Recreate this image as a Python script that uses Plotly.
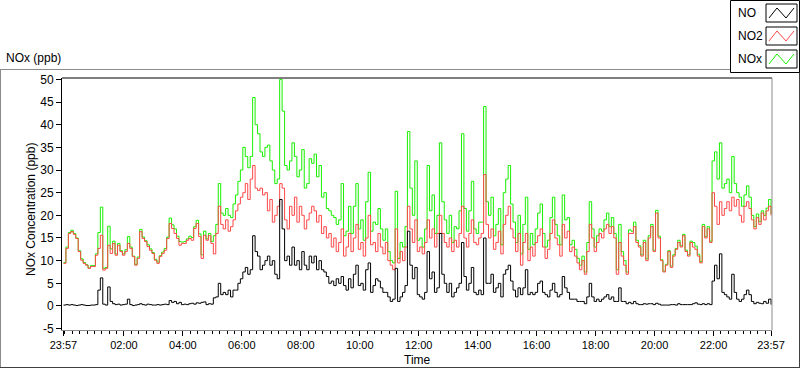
import plotly.graph_objects as go
import pandas as pd

# ---- data: 5-minute readings from 23:57 to 23:57 next day (289 samples) ----
start_time = "2024-01-01 23:57"
n_samples = 289
tick_labels = ["23:57", "02:00", "04:00", "06:00", "08:00", "10:00", "12:00",
               "14:00", "16:00", "18:00", "20:00", "22:00", "23:57"]
y_ticks = [-5, 0, 5, 10, 15, 20, 25, 30, 35, 40, 45, 50]

no2 = [
    # 23:57 - 04:42
    9.4, 12.7, 16.0, 16.4, 15.8, 14.9, 12.0, 10.1, 9.4, 9.0, 8.3, 8.7,
    8.7, 11.2, 12.7, 15.6, 7.9, 8.3, 13.4, 11.6, 13.8, 11.2, 13.4, 12.0,
    11.2, 12.0, 13.8, 12.7, 10.9, 9.0, 10.5, 16.4, 14.9, 14.2, 13.1, 12.3,
    11.6, 10.1, 9.4, 10.9, 11.6, 12.3, 14.9, 18.2, 17.1, 16.0, 14.9, 13.4,
    13.8, 13.8, 14.5, 14.9, 14.5, 17.1, 18.2, 15.3, 10.5, 15.6,
    # 04:47 - 09:37
    14.5, 15.5, 13.8, 11.5, 16.0, 22, 18, 17, 19, 16.5, 17.5, 19, 21, 22.5,
    24, 25, 27, 23.5, 28, 31, 26, 25.5, 26, 24.5, 25, 21, 23.5, 18.5, 20, 22,
    27, 26, 19, 17, 22, 20, 24, 18.5, 22, 20, 17, 19, 20.5, 22, 21, 18.5, 20,
    16, 17.5, 15, 16, 13, 15, 12, 14, 17, 11,
    # 09:42 - 14:27
    13, 16, 12, 15, 18, 12.5, 14, 11, 15, 20, 13.5, 14, 12, 16, 13, 11.5, 14,
    10, 9, 8, 17, 9.5, 12, 10, 13, 22, 17, 14, 19, 12, 13, 11.5, 14, 19, 15,
    17, 13, 16, 20, 16, 14, 13, 15, 12, 14.5, 13, 16, 22, 15, 13, 16, 19, 14,
    13.5, 15, 16, 29, 18,
    # 14:32 - 19:17
    15, 17, 12.5, 14, 16.5, 11.5, 18, 20, 22, 17, 15, 12, 16, 9, 14, 16, 10,
    13, 11, 14, 15.5, 17, 13, 10.5, 12.5, 16, 19, 15, 13.5, 11, 18, 15, 16.5,
    12, 13, 11, 9.5, 8, 10, 7, 12, 18, 15, 12, 14, 16, 15, 17, 18, 16, 17.5,
    15, 7, 14, 11, 9, 7, 16,
    # 19:22 - 23:57
    16, 17.5, 14, 13, 11, 14, 10, 15, 17.5, 12, 20.5, 15, 10, 7.5, 9, 12, 8.5,
    11, 12.5, 14, 13, 15.5, 12, 11, 14, 13, 12.5, 11, 9.5, 17.5, 15, 17, 14,
    25, 22, 18, 23, 20, 21.5, 23, 21, 24, 22, 23.5, 20, 18.5, 22, 23, 21.5,
    19, 17, 19.5, 18, 20.5, 19, 21, 22, 20,
]

no = [
    0.2, 0.3, 0.2, 0.3, 0.2, 0.1, 0.2, 0.3, 0.2, 0.1, 0.1, 0.2,
    0.2, 0.3, 3.5, 6.2, 0.4, 0.2, 4.2, 1.0, 0.5, 0.3, 0.4, 0.2,
    0.3, 0.4, 1.5, 0.3, 0.1, 0.2, 0.3, 0.5, 0.3, 0.2, 0.4, 0.3,
    0.2, 0.2, 0.3, 0.2, 0.3, 0.4, 0.3, 1.2, 0.8, 1.0, 0.5, 0.8,
    0.3, 0.4, 0.3, 0.5, 0.6, 0.4, 0.7, 0.6, 0.8, 0.9,
    0.3, 0.5, 0.4, 1.8, 2.0, 5, 2.5, 3, 2.5, 3.5, 2, 3.5, 3.5, 5, 6, 7.5,
    8.5, 7, 8, 15.5, 12, 11, 8, 9, 10, 11, 9, 10, 7, 6, 23.5, 17, 10, 11, 9,
    13, 9, 10, 8, 12, 9, 8, 11, 9.5, 11, 8, 10, 8, 7.5, 6.5, 5, 5.5, 4.5, 6,
    5, 6.5, 4.5,
    3.5, 6, 4, 7, 9, 4.5, 5, 3.5, 8, 9.5, 3, 4.5, 6, 5.5, 4, 3, 3, 2, 1, 1.5,
    8.3, 1, 2, 3, 4.5, 16.5, 9, 6, 8.5, 2.5, 2, 1.5, 3, 12, 6, 7.5, 3, 4, 16,
    7, 5, 3, 5, 2, 3, 4, 5, 14, 6.5, 3.5, 5, 8.5, 3, 2.5, 3.5, 2.5, 15, 5,
    5, 7, 3, 4, 5, 2, 7, 8, 9, 5.5, 3.5, 2, 4, 2.5, 4, 8, 2.5, 3, 2.5, 3, 5,
    5.5, 3, 2.5, 2, 3.5, 5, 3, 2, 2.5, 6.5, 4, 3, 1.5, 1.5, 1.5, 1, 1, 1,
    0.5, 2, 5, 2, 1, 1.5, 1, 1.5, 2, 2.5, 1.5, 2, 1, 1, 4, 1, 1, 0.5, 0.8,
    0.5, 1, 0.5, 0.3, 0.3, 0.5, 0.4, 0.5, 0.5, 0.3, 0.6, 0.4, 0.2, 0.2, 0.2,
    0.2, 0.3, 0.3, 0.2, 0.5, 0.3, 0.3, 0.3, 0.3, 0.3, 0.5, 0.7, 0.4, 0.3,
    0.5, 0.3, 0.5, 0.3, 5.5, 9, 6, 11.5, 3, 2.5, 2, 1.5, 7, 3, 1.5, 1, 1.5,
    2.5, 3.5, 2.5, 1, 0.5, 0.8, 0.6, 0.5, 1, 0.6, 1.5, 0.3,
]

nox = [
    9.6, 13.0, 16.2, 16.7, 16.0, 15.0, 12.2, 10.4, 9.6, 9.1, 8.4, 8.9,
    8.9, 11.5, 16.2, 21.8, 8.3, 8.5, 17.6, 12.6, 14.3, 11.5, 13.8, 12.2,
    11.5, 12.4, 15.3, 13.0, 11.0, 9.2, 10.8, 16.9, 15.2, 14.4, 13.5, 12.6,
    11.8, 10.3, 9.7, 11.1, 11.9, 12.7, 15.2, 19.4, 17.9, 17.0, 15.4, 14.2,
    14.1, 14.2, 14.8, 15.4, 15.1, 17.5, 18.9, 15.9, 11.3, 16.5,
    14.8, 16.0, 14.2, 15.5, 18.0, 27, 20.5, 20, 21.5, 20, 19.5, 22.5, 24.5,
    27.5, 30, 35, 33, 30.5, 33, 46, 40, 38, 34, 33, 35, 35.5, 32, 30, 27, 28,
    50, 43, 31, 30, 32, 36, 33, 28.5, 30, 34.5, 26, 27, 32.5, 31.5, 33.5,
    28.5, 31, 24, 25, 21.5, 21, 20, 19.5, 18, 19, 27, 15.5,
    16.5, 22, 16, 22, 27, 17, 19, 14.5, 23, 29.5, 16.5, 18.5, 18, 21.5, 17,
    14.5, 17, 12, 10, 9.5, 25.3, 10.5, 14, 13, 17.5, 38.5, 26, 20, 32, 14.5,
    15, 13, 17, 31, 21, 24.5, 16, 20, 36, 23, 19, 16, 20, 14, 17.5, 17, 21,
    38, 21.5, 16.5, 21, 27.5, 17, 16, 18.5, 18.5, 44, 23,
    20, 24, 15.5, 18, 21.5, 13.5, 25, 28, 31, 22.5, 18.5, 14, 20, 11.5, 18,
    24, 12.5, 16, 13.5, 17, 20.5, 22.5, 16, 13, 14.5, 19.5, 24, 18, 15.5,
    13.5, 24.5, 19, 19.5, 13.5, 14.5, 12.5, 10.5, 9, 11, 7.5, 14, 23, 17, 13,
    15.5, 17, 16.5, 19, 20.5, 17.5, 19.5, 16, 8, 18, 12, 10, 7.5, 16.8,
    16.5, 18.5, 14.5, 13.3, 11.3, 14.5, 10.4, 15.5, 18, 12.3, 21.1, 15.4,
    10.2, 7.7, 9.2, 12.2, 8.8, 11.3, 12.7, 14.5, 13.3, 15.8, 12.3, 11.3, 14.3,
    14, 13.2, 11.4, 9.8, 18, 15.3, 17.5, 14.3, 32, 34, 28, 36, 26, 27, 28,
    25, 33, 27, 25, 24, 22, 24.5, 26.5, 24, 20, 17.5, 20.3, 18.6, 21, 20,
    21.6, 23.5, 20.3,
]

# ---- build figure ----
times = pd.date_range(start_time, periods=n_samples, freq="5min")
t0, t1 = times[0], times[-1]
major_vals = [t0] + list(pd.date_range(t0.normalize() + pd.Timedelta(days=1, hours=2),
                                       periods=11, freq="2h")) + [t1]
minor_vals = list(pd.date_range(t0.normalize() + pd.Timedelta(days=1),
                                periods=96, freq="15min"))

FONT = "Liberation Sans, Arial, sans-serif"
GREEN, RED, BLACK = "#18f000", "#ff4848", "#000000"

fig = go.Figure()
fig.add_trace(go.Scatter(x=times, y=nox, mode="lines", name="NOx",
                         line=dict(color=GREEN, width=1, shape="hv"), showlegend=False))
fig.add_trace(go.Scatter(x=times, y=no2, mode="lines", name="NO2",
                         line=dict(color=RED, width=1, shape="hv"), showlegend=False))
fig.add_trace(go.Scatter(x=times, y=no, mode="lines", name="NO",
                         line=dict(color=BLACK, width=1, shape="hv"), showlegend=False))

L, R, T, B = 62, 772, 78, 330
W, H = 800, 369


def px(x):
    return (x - L) / (R - L)


def py(y):
    return (B - y) / (B - T)


shapes = []
# plot frame: top/left dark, right/bottom grey
shapes.append(dict(type="line", xref="paper", yref="paper", x0=0, x1=1, y0=1, y1=1,
                   line=dict(color="black", width=1)))
shapes.append(dict(type="line", xref="paper", yref="paper", x0=1, x1=1, y0=0, y1=1,
                   line=dict(color="#8c8c8c", width=1)))
# outer panel
panel = [((0, 69.5), (730, 69.5), "#8c8c8c"), ((0.5, 69.5), (0.5, 368), "#8c8c8c"),
         ((0, 367.5), (800, 367.5), "#404040"), ((799.5, 72), (799.5, 368), "#404040")]
for (xa, ya), (xb, yb), c in panel:
    shapes.append(dict(type="line", xref="paper", yref="paper", x0=px(xa), y0=py(ya),
                       x1=px(xb), y1=py(yb), line=dict(color=c, width=1)))
# legend box
shapes.append(dict(type="rect", xref="paper", yref="paper", x0=px(730.5), y0=py(72.5),
                   x1=px(799.5), y1=py(0.5), line=dict(color="black", width=1),
                   fillcolor="white"))

annotations = []
legend_items = [("NO", BLACK, 13), ("NO2", RED, 36), ("NOx", GREEN, 59)]
for name, col, cy in legend_items:
    x0, x1 = 766, 797
    y0, y1 = cy - 9, cy + 9
    shapes.append(dict(type="rect", xref="paper", yref="paper", x0=px(x0), x1=px(x1),
                       y0=py(y1), y1=py(y0), line=dict(color="black", width=1),
                       fillcolor="white"))
    pts = [(x0 + 3, y1 - 4), (x0 + 11, y0 + 4), (x0 + 20, y1 - 4), (x0 + 28, y0 + 4)]
    path = "M " + " L ".join(f"{px(a):.5f},{py(b):.5f}" for a, b in pts)
    shapes.append(dict(type="path", xref="paper", yref="paper", path=path,
                       line=dict(color=col, width=1)))
    annotations.append(dict(text=name, xref="paper", yref="paper", x=px(736), y=py(cy),
                            xanchor="left", yanchor="middle", showarrow=False,
                            font=dict(family=FONT, size=12, color="black")))

annotations.append(dict(text="NOx (ppb)", xref="paper", yref="paper", x=px(4), y=py(58),
                        xanchor="left", yanchor="middle", showarrow=False,
                        font=dict(family=FONT, size=12, color="black")))
annotations.append(dict(text="NOx Concentration (ppb)", xref="paper", yref="paper",
                        x=px(31), y=py(210), textangle=-90, xanchor="center",
                        yanchor="middle", showarrow=False,
                        font=dict(family=FONT, size=12, color="black")))
annotations.append(dict(text="Time", xref="paper", yref="paper", x=px(417), y=py(360),
                        xanchor="center", yanchor="middle", showarrow=False,
                        font=dict(family=FONT, size=12, color="black")))

fig.update_layout(
    width=W, height=H,
    margin=dict(l=L, r=W - R, t=T, b=H - B, pad=0, autoexpand=False),
    paper_bgcolor="white", plot_bgcolor="white",
    showlegend=False, hovermode=False,
    shapes=shapes, annotations=annotations,
    xaxis=dict(
        range=[t0 - pd.Timedelta(minutes=3), t1 + pd.Timedelta(minutes=2)],
        tickmode="array", tickvals=major_vals, ticktext=tick_labels,
        ticks="outside", ticklen=5, tickcolor="black", tickwidth=1,
        minor=dict(tickmode="array", tickvals=minor_vals, ticks="outside",
                   ticklen=3, tickcolor="black", tickwidth=1),
        showline=True, linecolor="#8c8c8c", linewidth=1,
        showgrid=False, zeroline=False, automargin=False,
        tickfont=dict(family=FONT, size=11, color="black"),
    ),
    yaxis=dict(
        range=[-5.3, 50.3],
        tickmode="array", tickvals=y_ticks, ticktext=[str(v) for v in y_ticks],
        ticks="outside", ticklen=5, tickcolor="black", tickwidth=1,
        showline=True, linecolor="black", linewidth=1,
        showgrid=False, zeroline=False, automargin=False,
        tickfont=dict(family=FONT, size=12, color="black"),
    ),
)

fig.write_html("out.html", config={"displayModeBar": False, "staticPlot": True},
               post_script="document.body.style.margin='0px';"
                           "document.body.style.overflow='hidden';")
